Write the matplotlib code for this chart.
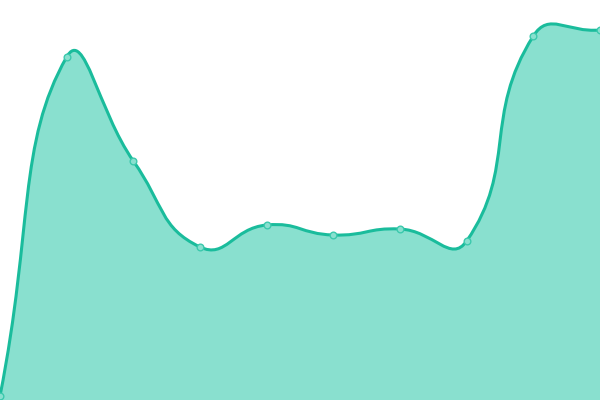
import numpy as np
import matplotlib
matplotlib.use("Agg")
import matplotlib.pyplot as plt
from matplotlib.path import Path
from matplotlib.patches import PathPatch

categories = list(range(10))
values = [4, 343, 239, 153, 175, 165, 171, 159, 364, 370]

LINE = "#1abc9c"
FILL = "#89e0cf"

fig = plt.figure(figsize=(6, 4), dpi=100)
ax = fig.add_axes([0, 0, 1, 1])
ax.set_xlim(0, len(categories) - 1)
ax.set_ylim(0, 400)
ax.axis("off")

# Smooth curve (ECharts-like bezier smoothing) computed in display space
pts = ax.transData.transform(np.column_stack([categories, values]))
smooth = 0.5
n = len(pts)
verts = [pts[0]]
codes = [Path.MOVETO]
cps_in = []
cps_out = []
for i in range(n):
    p = pts[i]
    prev = pts[i - 1] if i > 0 else p
    nxt = pts[i + 1] if i < n - 1 else p
    v = nxt - prev
    l0 = np.hypot(*(p - prev)); l1 = np.hypot(*(nxt - p))
    r = l1 / (l0 + l1)
    cps_in.append(p - v * smooth * (1 - r))
    cps_out.append(p + v * smooth * r)
for i in range(n - 1):
    verts += [cps_out[i], cps_in[i + 1], pts[i + 1]]
    codes += [Path.CURVE4] * 3
inv = ax.transData.inverted()
dverts = inv.transform(np.array(verts))
line_path = Path(dverts, codes)

fill_verts = list(dverts) + [[categories[-1], 0], [categories[0], 0], dverts[0]]
fill_codes = codes + [Path.LINETO, Path.LINETO, Path.CLOSEPOLY]
ax.add_patch(PathPatch(Path(fill_verts, fill_codes), facecolor=FILL, edgecolor="none", zorder=1))
ax.add_patch(PathPatch(line_path, facecolor="none", edgecolor=LINE, lw=2.2, zorder=2, capstyle="round", joinstyle="round"))
ax.plot(categories, values, linestyle="none", marker="o", markersize=4.8,
        markerfacecolor=FILL, markeredgecolor="#3cc9ad", markeredgewidth=1.0, zorder=3, clip_on=True)

fig.savefig("out.png", dpi=100)
